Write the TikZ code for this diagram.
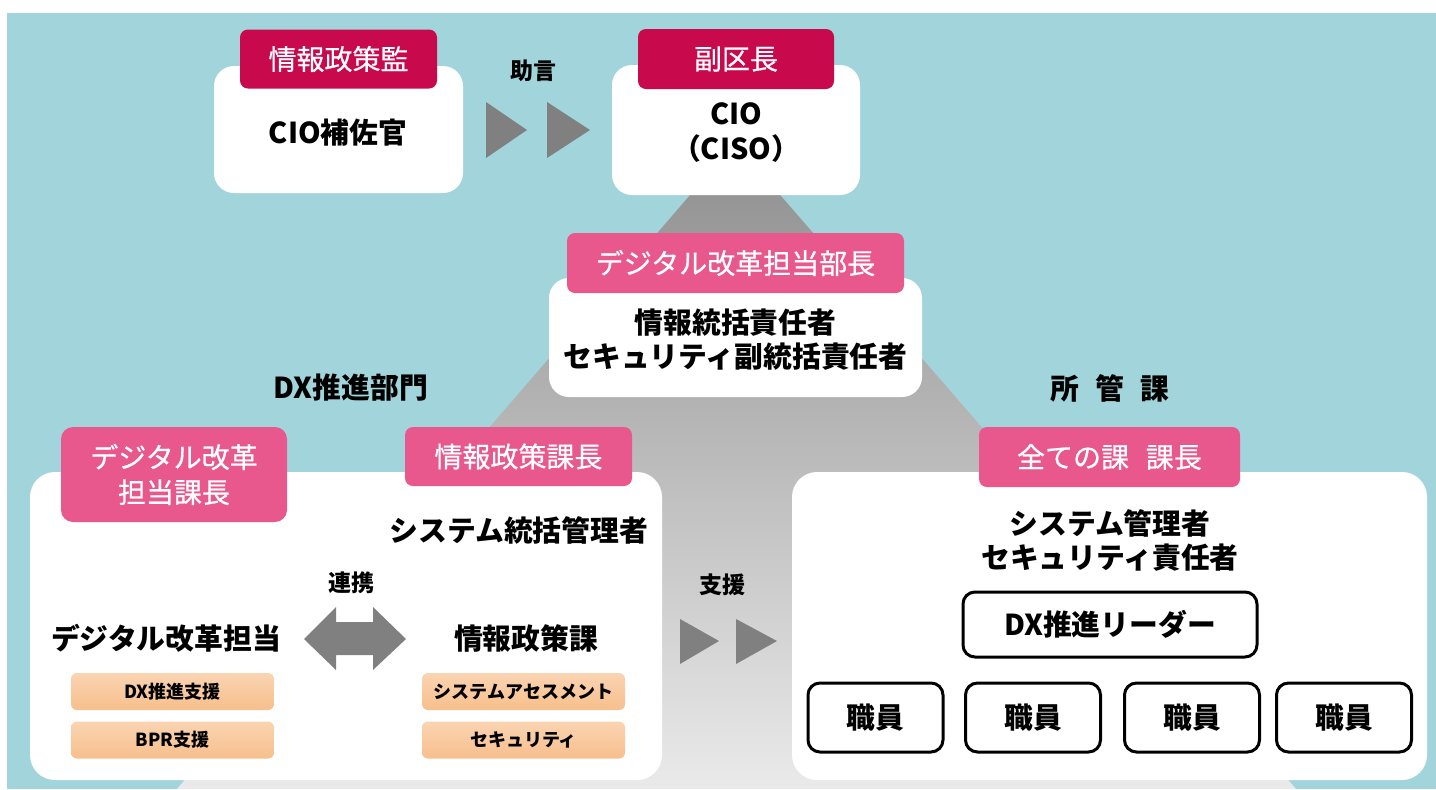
\documentclass[tikz,border=0pt]{standalone}
\usepackage{fontspec}
\setmainfont{Noto Sans CJK JP}
\newfontfamily\headfont[FakeBold=0.6]{Noto Sans CJK JP}
\usetikzlibrary{positioning}
\definecolor{bgteal}{HTML}{A2D5DB}
\definecolor{crimson}{HTML}{C8094C}
\definecolor{rosepink}{HTML}{E8588C}
\definecolor{markgray}{HTML}{808080}
\definecolor{peachtop}{HTML}{FAD4B2}
\definecolor{peachbot}{HTML}{F7BF8C}
\definecolor{funneltop}{HTML}{8E8E8E}
\definecolor{funnelbot}{HTML}{EAEAEA}
\tikzset{
  card/.style={fill=white,rounded corners=10pt,inner sep=0pt},
  bigcard/.style={card,rounded corners=12.5pt,minimum width=316pt,minimum height=154pt},
  chiefhead/.style={fill=crimson,text=white,rounded corners=4pt,inner sep=0pt,
    align=center,font=\headfont\fontsize{14}{17.5}\selectfont},
  headtag/.style={chiefhead,fill=rosepink},
  caption/.style={align=center,font=\bfseries\fontsize{14.4}{17}\selectfont},
  smalllabel/.style={font=\bfseries\fontsize{11.5}{14}\selectfont},
  tasktag/.style={rounded corners=3pt,top color=peachtop,bottom color=peachbot,
    minimum width=101.5pt,minimum height=18.5pt,inner sep=0pt,
    font=\bfseries\fontsize{9}{11}\selectfont},
  memberbox/.style={draw=black,line width=1.5pt,rounded corners=6pt,fill=white,
    inner sep=0pt,font=\bfseries\fontsize{14.4}{17}\selectfont},
  playmark/.style={fill=markgray},
}
\begin{document}
\begin{tikzpicture}[x=0.5pt,y=-0.5pt]
  \useasboundingbox (0,0) rectangle (1436,789);
  % background and funnel
  \fill[bgteal] (7,13) rectangle (1436,789);
  \shade[top color=funneltop,bottom color=funnelbot] (735,143) -- (1296,789) -- (177,789) -- cycle;

  % top row
  \node[card,minimum width=124.5pt,minimum height=63.5pt] (adviserbox) at (338.5,129.5) {};
  \node[chiefhead,minimum width=98.5pt,minimum height=29.5pt] (adviserhead) at (338.5,59) {情報政策監};
  \node[caption] (adviser) at (338,133) {CIO補佐官};
  \node[card,minimum width=124pt,minimum height=65pt] (ciobox) at (736,130) {};
  \node[chiefhead,minimum width=98pt,minimum height=30pt] (ciohead) at (736,59) {副区長};
  \node[caption,font=\bfseries\fontsize{14.4}{17.5}\selectfont] (cio) at (736,133) {CIO\\（CISO）};
  \node[smalllabel] (advice) at (533,71) {助言};
  \fill[playmark] (486,102) -- (527,130) -- (486,158) -- cycle;
  \fill[playmark] (547,102) -- (590,130) -- (547,158) -- cycle;

  % department head
  \node[card,minimum width=186.5pt,minimum height=59.5pt] (dirbox) at (735.5,337.5) {};
  \node[headtag,minimum width=168.5pt,minimum height=30pt] (dirhead) at (735.5,263) {デジタル改革担当部長};
  \node[caption] (dir) at (735.5,340) {情報統括責任者\\セキュリティ副統括責任者};
  \node[caption] (dxdept) at (351,388) {DX推進部門};
  \node[caption] (sections) at (1110,388) {所\hspace{0.55em}管\hspace{0.55em}課};

  % DX department
  \node[bigcard] (dxbox) at (346,626) {};
  \node[headtag,minimum width=113pt,minimum height=47.5pt,rounded corners=6pt] (dxhead) at (174,474.5) {デジタル改革\\担当課長};
  \node[headtag,minimum width=113.5pt,minimum height=29.5pt] (infohead) at (518.5,456.5) {情報政策課長};
  \node[caption] (sysmgr) at (519,530) {システム統括管理者};
  \node[caption] (dxteam) at (166,638) {デジタル改革担当};
  \node[caption] (infoteam) at (526,638) {情報政策課};
  \node[smalllabel] (link) at (351,583) {連携};
  \fill[playmark] (304,639) -- (336,607) -- (336,622) -- (373,622) -- (373,607)
    -- (406,639) -- (373,670) -- (373,655) -- (336,655) -- (336,670) -- cycle;
  \node[tasktag] (dxsupport) at (172.5,691.5) {DX推進支援};
  \node[tasktag] (bprsupport) at (172.5,740) {BPR支援};
  \node[tasktag] (assess) at (523.5,691.5) {システムアセスメント};
  \node[tasktag] (security) at (523.5,740) {セキュリティ};

  % support
  \node[smalllabel] (support) at (722,585) {支援};
  \fill[playmark] (680,619) -- (719,641) -- (680,664) -- cycle;
  \fill[playmark] (736,619) -- (777,641) -- (736,664) -- cycle;

  % sections
  \node[bigcard,minimum width=317.5pt] (secbox) at (1109.5,626) {};
  \node[headtag,minimum width=130.5pt,minimum height=30pt] (sechead) at (1109.5,457) {全ての課\hspace{0.6em}課長};
  \node[caption] (secmgr) at (1110,540) {システム管理者\\セキュリティ責任者};
  \node[memberbox,minimum width=147pt,minimum height=32.5pt] (leader) at (1110,624.5) {DX推進リーダー};
  \foreach \cx [count=\i] in {875.5,1033,1192,1344}
    \node[memberbox,minimum width=67.5pt,minimum height=34.5pt] (staff\i) at (\cx,717.5) {職員};
\end{tikzpicture}
\end{document}
